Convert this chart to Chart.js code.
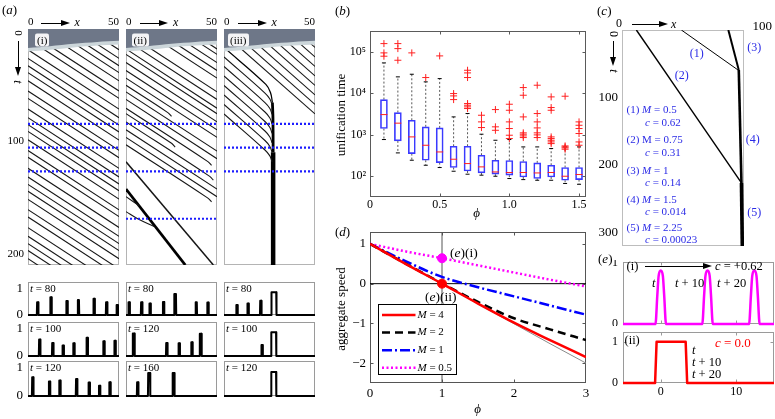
<!DOCTYPE html>
<html>
<head>
<meta charset="utf-8">
<title>Aggregate dynamics</title>
<script src="https://cdn.jsdelivr.net/npm/chart.js@4.4.1/dist/chart.umd.min.js"></script>
<style>
  html, body { margin: 0; padding: 0; background: #fff; }
  body { position: relative; width: 775px; height: 419px; overflow: hidden;
         font-family: "Liberation Serif", "Times New Roman", serif; color: #000; }
  canvas { position: absolute; }
  .tx { position: absolute; white-space: nowrap; line-height: 1; }
  .tag { background: rgba(255,255,255,0.92); padding: 1px 2px; border-radius: 2px; }
  .hl { position: absolute; height: 1px; background: #000; }
  .vl { position: absolute; width: 1px; background: #000; }
  .hh { position: absolute; width: 0; height: 0; border-top: 3.5px solid transparent;
        border-bottom: 3.5px solid transparent; border-left: 9px solid #000; }
  .vh { position: absolute; width: 0; height: 0; border-left: 3.5px solid transparent;
        border-right: 3.5px solid transparent; border-top: 9px solid #000; }
</style>
</head>
<body>
<script>
// ---------- (a) kymographs: times at which an aggregate crosses x = 0 ----------
const K_CROSS = 50;   // (i),(ii): time to cross the 50-wide domain
const K1_ENTRY = [-47.7, -41.5, -32.5, -25.2, -19, -13.2, -6.3, 2.3, 8.5, 17.5, 24.8, 31, 36.8, 43.7,
                  52.3, 58.5, 67.5, 74.8, 80.7, 86.4, 93.4, 102.5, 108.2, 117.4, 124.8, 131, 136.8,
                  143.7, 152.3, 158.5, 167.5, 174.8, 181, 186.8, 193.7];
const K2_FULL = [-47, -40.6, -33.2, -28.6, -21.7, -15, -8.6, 3, 9.4, 16.8, 21.4, 28.3, 35, 41.4, 53, 59.4, 85, 91.4];
const K2_SHORT = [47.5, 66.8, 71.4, 78.3, 97.6];
const K2_SHORT_END = [25, 47, 27, 48, 47];
const K2_HOOKS = [[[0, 141.4], [7.3, 149]], [[0, 154], [6.4, 160], [15.5, 166.5]]];
const K2_SLOW = [[0, 112], [48, 199]];
const K2_THICK = [[0, 135], [32.6, 199]];
const K3_SPEED = 0.74;
const K3_FULL = [-52, -44, -36, -28, -20, -12, -4, 4];
const K3_MERGE = [23.6, 31.6, 39.6, 47.6, 55.6, 63.6, 71.6];
const K3_AGG_A = [[0, 15.6], [23, 46.7], [25.6, 54], [26.6, 62]];
const K3_AGG_B = [[26.6, 62], [26.9, 75], [27, 104]];
const K3_AGG_C = [[27, 104], [27, 199]];
const BAND_DARK = [[0, 16], [12, 14.5], [25, 12.5], [38, 11], [50, 10]];
const BAND_LIGHT = [[0, 19], [12, 17.5], [25, 15.5], [38, 14], [50, 13]];

// snapshots below the kymographs (pulse centres, heights, half widths)
const SN1_T = [80, 100, 120];
const SN1_X = [[5.3, 12.6, 21.4, 27.7, 36.3, 43.2, 49], [6.4, 13.6, 19.3, 25.2, 32.5, 41.7, 47.8], [2.6, 11.8, 17.5, 26.7, 33.6, 39.3, 45]];
const SN1_H = [[0.48, 0.67, 0.53, 0.57, 0.62, 0.48, 0.38], [0.61, 0.48, 0.39, 0.47, 0.67, 0.54, 0.56], [0.67, 0.52, 0.55, 0.61, 0.48, 0.37, 0.49]];
const SN1_W = [[0.3, 0.3, 0.3, 0.3, 0.3, 0.3, 0.3], [0.3, 0.3, 0.3, 0.3, 0.3, 0.3, 0.3], [0.3, 0.3, 0.3, 0.3, 0.3, 0.3, 0.3]];
const SN2_T = [80, 120, 160];
const SN2_X = [[1.7, 8.6, 13.2, 20.6, 27, 38.6, 45], [4.2, 22.4, 29.2, 36.2, 41], [6.4, 12.7, 26.1]];
const SN2_H = [[0.48, 0.48, 0.44, 0.49, 0.8, 0.48, 0.47], [0.83, 0.48, 0.47, 0.51, 0.82], [0.49, 0.82, 0.82]];
const SN2_W = [[0.3, 0.3, 0.3, 0.3, 0.45, 0.3, 0.3], [0.45, 0.3, 0.3, 0.3, 0.45], [0.3, 0.5, 0.45]];
const SN3_T = [80, 100, 120];
const SN3_X = [[7.1, 13.2, 20.2, 27.4], [20.9, 27.3], [27.3]];
const SN3_H = [[0.38, 0.44, 0.54, 0.86], [0.4, 0.87], [0.86]];
const SN3_W = [[0.3, 0.3, 0.3, 1.3], [0.3, 1.3], [1.3]];

// ---------- (b) unification time box plots ----------
const PHI_B = [0.1, 0.2, 0.3, 0.4, 0.5, 0.6, 0.7, 0.8, 0.9, 1.0, 1.1, 1.2, 1.3, 1.4, 1.5];
const B_LO  = [766, 365, 243, 184, 162, 132, 112, 106, 100, 88, 83, 80, 80, 67, 64];
const B_Q1  = [1410, 710, 351, 243, 213, 162, 134, 120, 112, 106, 96, 88, 96, 80, 83];
const B_MED = [3060, 1900, 887, 558, 385, 257, 202, 168, 127, 123, 123, 120, 123, 100, 110];
const B_Q3  = [7030, 3420, 2230, 1550, 1460, 528, 528, 321, 243, 239, 226, 210, 184, 162, 162];
const B_HI  = [53800, 24800, 28700, 18800, 22500, 2690, 3240, 1030, 736, 766, 509, 509, 464, 509, 509];
const B_OUT = [
  [157000, 93800, 78000], [157000, 119000, 62400], [93800], [23900], [79400],
  [9820, 8630, 7030], [35800, 30900, 23900, 5640, 5140, 4690, 4280], [2950, 2040, 1490],
  [4040, 1550, 1280], [5430, 3890, 2040, 1410, 973, 809], [13700, 8950, 2690, 1110, 1030, 937, 855],
  [15600, 3240, 2040, 1460, 1110, 991, 855], [8170, 4520, 3890, 887, 809, 736, 671, 612],
  [8470, 538, 509, 482, 448], [2040, 1690, 1410, 1070, 671, 558]
];
const B_TICK_LABEL = { 100: '10²', 1000: '10³', 10000: '10⁴', 100000: '10⁵' };

// ---------- (c) trajectories ----------
const C_1 = [[42.1, 0], [82.3, 59.3]];
const C_2 = [[10.2, 0], [84.7, 226.6]];
const C_3 = [[75.4, 0], [82.8, 59.3]];
const C_4 = [[82.8, 59.3], [84.7, 226.6]];
const C_5 = [[84.7, 226.6], [85.3, 320]];

// ---------- (d) aggregate speed ----------
const PHI_D = [0, 0.5, 1, 1.5, 2, 2.5, 3];
const D_M4  = [1, 0.49, 0, -0.5, -0.98, -1.42, -1.85];
const D_MINF = [1, 0.49, 0, -0.51, -1.01, -1.51, -2.0];
const D_M2  = [1, 0.5, 0.01, -0.46, -0.87, -1.15, -1.42];
const D_M1  = [1, 0.56, 0.17, -0.09, -0.32, -0.55, -0.78];
const D_M05 = [1, 0.81, 0.64, 0.46, 0.28, 0.1, -0.07];
const D_LEG = ['4', '2', '1', '0.5'];

// ---------- (e) profiles ----------
const E1_POS = [0, 6.2, 12.4];
const E1_H = 0.88;
const PULSE_DX = [-0.7, -0.45, -0.28, 0, 0.28, 0.45, 0.7];
const PULSE_DY = [0, 0.55, 0.9, 1, 0.9, 0.55, 0];
const E2_X = [-5, -0.75, -0.55, 3.3, 3.5, 15];
const E2_Y = [0, 0, 1, 1, 0, 0];

// ================= helpers =================
const FONT = '"Liberation Serif", "Times New Roman", serif';
Chart.defaults.font.family = FONT;
Chart.defaults.font.size = 11;
Chart.defaults.color = '#000';

const zip = (xs, ys) => xs.map((x, i) => [x, ys[i]]);

function line(list, width, color, more) {
  return Object.assign({
    data: list.map(p => ({ x: p[0], y: p[1] })), showLine: true,
    borderColor: color || '#161616', borderWidth: width ?? 1.1,
    pointRadius: 0, fill: false, tension: 0, order: 5
  }, more || {});
}

const framePlugin = {
  id: 'frame',
  beforeDatasetsDraw(chart, args, o) {
    if (!o || !o.color) return;
    const a = chart.chartArea, ctx = chart.ctx;
    const L = Math.round(a.left) + 0.5, T = Math.round(a.top) + 0.5;
    const R = Math.round(a.right) - 0.5, B = Math.round(a.bottom) - 0.5;
    ctx.save();
    ctx.strokeStyle = o.color; ctx.lineWidth = 1;
    ctx.strokeRect(L, T, R - L, B - T);
    if (o.tick) {
      ctx.beginPath();
      ['x', 'y'].forEach(id => {
        const s = chart.scales[id];
        if (!s) return;
        s.ticks.forEach(t => {
          const p = Math.round(s.getPixelForValue(t.value)) + 0.5;
          if (s.isHorizontal()) {
            if (p < L + 2 || p > R - 2) return;
            ctx.moveTo(p, B); ctx.lineTo(p, B - o.tick); ctx.moveTo(p, T); ctx.lineTo(p, T + o.tick);
          } else {
            if (p < T + 2 || p > B - 2) return;
            ctx.moveTo(L, p); ctx.lineTo(L + o.tick, p); ctx.moveTo(R, p); ctx.lineTo(R - o.tick, p);
          }
        });
      });
      ctx.stroke();
    }
    ctx.restore();
  }
};
Chart.register(framePlugin);

function sc(o) {
  const s = {
    type: o.type || 'linear', min: o.min, max: o.max, reverse: !!o.reverse, offset: false,
    display: !!o.pos, position: o.pos || 'bottom',
    grid: { display: false, drawTicks: false, tickLength: 0, offset: false },
    border: { display: false },
    ticks: { padding: o.pad ?? 3, autoSkip: false, maxRotation: 0, minRotation: 0,
             font: { size: o.size || 11 }, color: '#000' },
    afterBuildTicks: ax => { ax.ticks = (o.at || []).map(v => ({ value: v })); }
  };
  if (o.axis) s.axis = o.axis;
  if (o.align) s.ticks.align = o.align;
  if (o.fmt) s.ticks.callback = o.fmt;
  return s;
}

function chartAt(box, m, datasets, scales, frame, plugins) {
  const c = document.createElement('canvas');
  const W = box.w + m.l + m.r, H = box.h + m.t + m.b;
  c.width = W; c.height = H;
  c.style.left = (box.l - m.l) + 'px'; c.style.top = (box.t - m.t) + 'px';
  c.style.width = W + 'px'; c.style.height = H + 'px';
  document.body.appendChild(c);
  const side = { left: m.l, right: m.r, top: m.t, bottom: m.b };
  const pad = Object.assign({}, side);
  Object.values(scales).forEach(s => {
    if (!s.display) return;
    const size = side[s.position];
    pad[s.position] = 0;
    s.afterFit = ax => {
      if (ax.isHorizontal()) ax.height = size; else ax.width = size;
      ax.paddingLeft = ax.paddingRight = ax.paddingTop = ax.paddingBottom = 0;
    };
  });
  return new Chart(c, {
    type: 'scatter',
    data: { datasets },
    options: {
      responsive: false, animation: false, devicePixelRatio: 1, events: [],
      layout: { padding: pad, autoPadding: false },
      plugins: { legend: { display: false }, tooltip: { enabled: false }, frame },
      scales
    },
    plugins: plugins || []
  });
}

function txt(x, y, html, o) {
  o = o || {};
  const d = document.createElement('div');
  d.className = 'tx' + (o.tag ? ' tag' : '');
  d.innerHTML = html;
  d.style.left = x + 'px'; d.style.top = y + 'px';
  d.style.fontSize = (o.size || 11) + 'px';
  if (o.color) d.style.color = o.color;
  const tx = o.align === 'center' ? '-50%' : o.align === 'right' ? '-100%' : '0';
  d.style.transform = 'translate(' + tx + ',-50%)' + (o.rot ? ' rotate(' + o.rot + 'deg)' : '');
  document.body.appendChild(d);
}
function harrow(x1, x2, y) {
  const l = document.createElement('div'); l.className = 'hl';
  l.style.left = x1 + 'px'; l.style.top = (y - 0.5) + 'px'; l.style.width = (x2 - x1 - 6) + 'px';
  const h = document.createElement('div'); h.className = 'hh';
  h.style.left = (x2 - 9) + 'px'; h.style.top = (y - 3.5) + 'px';
  document.body.append(l, h);
}
function varrow(x, y1, y2) {
  const l = document.createElement('div'); l.className = 'vl';
  l.style.left = (x - 0.5) + 'px'; l.style.top = y1 + 'px'; l.style.height = (y2 - y1 - 6) + 'px';
  const h = document.createElement('div'); h.className = 'vh';
  h.style.left = (x - 3.5) + 'px'; h.style.top = (y2 - 9) + 'px';
  document.body.append(l, h);
}

// ================= (a) kymographs =================
const KBOX = [{ l: 28, t: 29, w: 91, h: 236 }, { l: 126, t: 29, w: 91, h: 236 }, { l: 224, t: 29, w: 91, h: 236 }];

function kymoCommon(dots) {
  const sets = dots.map(t => line([[0, t], [50, t]], 2.2, '#1c1cff', { borderDash: [2, 2], order: 0 }));
  sets.push(line(BAND_DARK, 0, '#6e7788', { fill: { value: 0 }, backgroundColor: '#6e7788', order: 1, tension: 0.3 }));
  sets.push(line(BAND_LIGHT, 0, '#ccd6da', { fill: { value: 0 }, backgroundColor: '#ccd6da', order: 1.5, tension: 0.3 }));
  return sets;
}
function kymo(i, sets) {
  const scales = {
    x: sc({ min: 0, max: 50, pos: 'top', at: [0, 50], align: 'inner', pad: 0 }),
    y: sc({ min: 0, max: 199, reverse: true })
  };
  if (i === 0) scales.yl = sc({ axis: 'y', min: 0, max: 210, reverse: true, pos: 'left', at: [100, 200], pad: 4 });
  chartAt(KBOX[i], { l: i === 0 ? 28 : 2, t: 15, r: 2, b: 2 }, sets, scales, { color: '#b4b4b4' });
}

// (i)
const k1 = kymoCommon(SN1_T);
K1_ENTRY.forEach(e => k1.push(line([[0, e], [50, e + K_CROSS]], 1.1)));
kymo(0, k1);

// (ii)
const k2 = kymoCommon(SN2_T);
K2_FULL.forEach(e => k2.push(line([[0, e], [50, e + K_CROSS]], 1.1)));
K2_SHORT.forEach((e, i) => {
  const xe = K2_SHORT_END[i];
  k2.push(line([[0, e], [xe - 2, e + xe - 2], [xe, e + xe + 1.2]], 1.1, null, { tension: 0.4 }));
});
K2_HOOKS.forEach(h => k2.push(line(h, 1.1, null, { tension: 0.4 })));
k2.push(line(K2_SLOW, 1.5));
k2.push(line(K2_THICK, 2.8, '#000'));
kymo(1, k2);

// (iii)
const k3 = kymoCommon(SN3_T);
K3_FULL.forEach(e => k3.push(line([[0, e], [50, e + 50 / K3_SPEED]], 1.1)));
K3_MERGE.forEach(e => {
  const tm = e + 22.5 / K3_SPEED;
  k3.push(line([[0, e], [22.5, tm], [25.2, tm + 5], [26.4, tm + 10]], 1.1, null, { tension: 0.4 }));
});
k3.push(line(K3_AGG_A, 1.3, '#000', { tension: 0.4 }));
k3.push(line(K3_AGG_B, 2.8, '#000', { tension: 0.3 }));
k3.push(line(K3_AGG_C, 4.5, '#000'));
kymo(2, k3);

// snapshots
const SN_ROWS = [{ t: 282, h: 33 }, { t: 322, h: 34 }, { t: 361, h: 35 }];
const SN_SETS = [[SN1_T, SN1_X, SN1_H, SN1_W], [SN2_T, SN2_X, SN2_H, SN2_W], [SN3_T, SN3_X, SN3_H, SN3_W]];
SN_SETS.forEach((set, col) => {
  const [T, X, Hh, Ww] = set;
  T.forEach((tt, r) => {
    const list = [[0, 0]];
    X[r].forEach((c, k) => {
      const w = Ww[r][k], h = Hh[r][k];
      list.push([c - w - 0.15, 0], [c - w, h], [c + w, h], [c + w + 0.15, 0]);
    });
    list.push([50, 0]);
    const box = { l: KBOX[col].l, t: SN_ROWS[r].t, w: 91, h: SN_ROWS[r].h };
    chartAt(box, { l: col === 0 ? 26 : 2, t: 2, r: 2, b: 3 },
      [line(list, 2, '#000', { clip: 3, borderJoinStyle: 'round' })],
      {
        x: sc({ min: 0, max: 50 }),
        y: col === 0 ? sc({ min: 0, max: 1.25, pos: 'left', at: [0, 1], pad: 5, size: 13 }) : sc({ min: 0, max: 1.25 })
      },
      { color: '#9a9a9a' });
  });
});

// ================= (b) box plots =================
const bBoxes = {
  type: 'bar', data: PHI_B.map((p, i) => ({ x: p, y: [B_Q1[i], B_Q3[i]] })),
  backgroundColor: 'rgba(0,0,0,0)', borderColor: '#3a3aff', borderWidth: 1,
  borderSkipped: false, barThickness: 7, order: 4
};
const bWhisk = {
  data: PHI_B.flatMap((p, i) => [{ x: p, y: B_Q3[i] }, { x: p, y: B_HI[i] }, { x: p, y: null },
                                  { x: p, y: B_Q1[i] }, { x: p, y: B_LO[i] }, { x: p, y: null }]),
  showLine: true, spanGaps: false, borderColor: '#444', borderWidth: 0.9, borderDash: [2, 2],
  pointRadius: 0, order: 5
};
const bCaps = {
  data: PHI_B.flatMap((p, i) => [{ x: p, y: B_LO[i] }, { x: p, y: B_HI[i] }]),
  pointStyle: 'line', pointRadius: 2, borderColor: '#000', borderWidth: 1, order: 3
};
const bMed = {
  data: PHI_B.map((p, i) => ({ x: p, y: B_MED[i] })),
  pointStyle: 'line', pointRadius: 3.5, borderColor: '#ff2020', borderWidth: 1, order: 2
};
const bOut = {
  data: B_OUT.flatMap((arr, i) => arr.map(v => ({ x: PHI_B[i], y: v }))),
  pointStyle: 'cross', pointRadius: 3.5, borderColor: '#ff2020', borderWidth: 1, order: 1
};
chartAt({ l: 370, t: 31, w: 216, h: 166 }, { l: 36, t: 2, r: 4, b: 18 },
  [bBoxes, bWhisk, bCaps, bMed, bOut],
  {
    x: sc({ min: 0, max: 1.55, pos: 'bottom', at: [0, 0.5, 1, 1.5], pad: 1, size: 12,
            fmt: v => (v === 0 ? '0' : v.toFixed(1)) }),
    y: sc({ type: 'logarithmic', min: 31.6, max: 316000, pos: 'left', at: [100, 1000, 10000, 100000],
            pad: 4, size: 12, fmt: v => B_TICK_LABEL[v] })
  },
  { color: '#5a5a5a', tick: 3 });

// ================= (c) trajectories =================
chartAt({ l: 622, t: 30, w: 122, h: 216 }, { l: 30, t: 15, r: 4, b: 2 },
  [line(C_1, 1, '#000'), line(C_2, 1.4, '#000'), line(C_3, 2, '#000'), line(C_4, 2.6, '#000'), line(C_5, 3.6, '#000')],
  {
    x: sc({ min: 0, max: 86.5, pos: 'top', at: [0], align: 'inner', pad: -1, size: 12 }),
    y: sc({ min: 0, max: 320, reverse: true, pos: 'left', at: [100, 200, 300], pad: 4, size: 13 })
  },
  { color: '#bdbdbd' });

// ================= (d) aggregate speed =================
const dRed = line(zip(PHI_D, D_M4), 2.5, '#ff0000', { cubicInterpolationMode: 'monotone', order: 3 });
const dBlack = line(zip(PHI_D, D_M2), 2.5, '#000000', { cubicInterpolationMode: 'monotone', borderDash: [8, 5], order: 3 });
const dBlue = line(zip(PHI_D, D_M1), 2.5, '#0000ff', { cubicInterpolationMode: 'monotone', borderDash: [10, 3, 2, 3], order: 3 });
const dMag = line(zip(PHI_D, D_M05), 2.5, '#ff00ff', { cubicInterpolationMode: 'monotone', borderDash: [2, 2.5], order: 3 });
const dGray = line(zip(PHI_D, D_MINF), 1, '#8a8a8a', { cubicInterpolationMode: 'monotone', order: 4 });
const dZero = line([[0, 0], [3, 0]], 1, '#000', { order: 6 });
const dVert = line([[1, -2.5], [1, 1.3]], 1, '#555', { order: 6 });
const dPtMag = { data: [{ x: 1, y: 0.64 }], pointStyle: 'circle', pointRadius: 4.5, backgroundColor: '#ff00ff', borderColor: '#ff00ff', order: 1 };
const dPtRed = { data: [{ x: 1, y: 0 }], pointStyle: 'circle', pointRadius: 4.5, backgroundColor: '#ff0000', borderColor: '#ff0000', order: 1 };
const dLegendSets = [dRed, dBlack, dBlue, dMag];
const dLegend = {
  id: 'dLegend',
  afterDatasetsDraw(chart) {
    const ctx = chart.ctx, a = chart.chartArea;
    const x0 = Math.round(a.left + 8) + 0.5, y0 = Math.round(a.top + 72) + 0.5, w = 78, h = 70;
    ctx.save();
    ctx.fillStyle = '#fff'; ctx.fillRect(x0, y0, w, h);
    ctx.strokeStyle = '#000'; ctx.lineWidth = 1; ctx.strokeRect(x0, y0, w, h);
    dLegendSets.forEach((ds, i) => {
      const y = y0 + 10.5 + 17.6 * i;
      ctx.strokeStyle = ds.borderColor; ctx.lineWidth = ds.borderWidth;
      ctx.setLineDash(ds.borderDash || []);
      ctx.beginPath(); ctx.moveTo(x0 + 3.5, y); ctx.lineTo(x0 + 37, y); ctx.stroke();
      ctx.setLineDash([]);
      ctx.fillStyle = '#000'; ctx.textBaseline = 'middle'; ctx.textAlign = 'left';
      ctx.font = 'italic 11px ' + FONT; ctx.fillText('M', x0 + 39, y);
      const mw = ctx.measureText('M').width;
      ctx.font = '11px ' + FONT; ctx.fillText(' = ' + D_LEG[i], x0 + 39 + mw, y);
    });
    ctx.restore();
  }
};
chartAt({ l: 370, t: 232, w: 216, h: 151 }, { l: 30, t: 2, r: 8, b: 20 },
  [dPtMag, dPtRed, dRed, dBlack, dBlue, dMag, dGray, dZero, dVert],
  {
    x: sc({ min: 0, max: 3, pos: 'bottom', at: [0, 1, 2, 3], pad: 3, size: 13 }),
    y: sc({ min: -2.5, max: 1.3, pos: 'left', at: [-2, -1, 0, 1], pad: 4, size: 13,
            fmt: v => String(v).replace('-', '\u2212') })
  },
  { color: '#555', tick: 3 }, [dLegend]);

// ================= (e) profiles =================
const e1 = [[-5, 0]];
E1_POS.forEach(c => PULSE_DX.forEach((dx, k) => e1.push([c + dx, E1_H * PULSE_DY[k]])));
e1.push([15, 0]);
chartAt({ l: 623, t: 262, w: 151, h: 62 }, { l: 20, t: 2, r: 1, b: 2 },
  [line(e1, 2.5, '#ff00ff', { cubicInterpolationMode: 'monotone', clip: 3 })],
  {
    x: sc({ min: -5, max: 15, at: [0, 10] }),
    y: sc({ min: 0, max: 1.02, pos: 'left', at: [0, 1], pad: 5, size: 12 })
  },
  { color: '#9a9a9a', tick: 3 });
chartAt({ l: 623, t: 332, w: 151, h: 51 }, { l: 20, t: 2, r: 1, b: 18 },
  [line(zip(E2_X, E2_Y), 2.5, '#ff0000', { clip: 3, borderJoinStyle: 'round' })],
  {
    x: sc({ min: -5, max: 15, pos: 'bottom', at: [0, 10], pad: 2, size: 12 }),
    y: sc({ min: 0, max: 1.24, pos: 'left', at: [0, 1], pad: 5, size: 12 })
  },
  { color: '#9a9a9a', tick: 3 });

// ================= text annotations =================
// (a)
txt(2, 8.5, '(<i>a</i>)', { size: 13 });
[35, 131.5, 228].forEach((x, i) => txt(x, 40, ['(i)', '(ii)', '(iii)'][i], { tag: true }));
[[41, 70, 74.5], [139.5, 168, 173], [237.5, 266.5, 271.5]].forEach(a => {
  harrow(a[0], a[1], 23);
  txt(a[2], 22, '<i>x</i>', { size: 12 });
});
txt(18.3, 33, '0', { align: 'center', rot: 90 });
varrow(18.3, 41, 76);
txt(18.3, 81.5, '<i>t</i>', { align: 'center', rot: 90, size: 12 });
SN_SETS.forEach((set, col) => set[0].forEach((tt, r) =>
  txt(KBOX[col].l + 2, SN_ROWS[r].t + 5.5, '<i>t</i> = ' + tt)));

// (b)
txt(335, 10, '(<i>b</i>)', { size: 13 });
txt(340, 115, 'unification time', { align: 'center', rot: -90, size: 13 });
txt(476.7, 212, '<i>ϕ</i>', { align: 'center', size: 13 });

// (c)
txt(597, 10, '(<i>c</i>)', { size: 13 });
harrow(632, 668, 24);
txt(671, 23.5, '<i>x</i>', { size: 12 });
txt(772, 24.5, '100', { align: 'right', size: 13 });
txt(613.5, 33.5, '0', { align: 'center', rot: 90, size: 12 });
varrow(613.5, 41, 66);
txt(613.5, 71, '<i>t</i>', { align: 'center', rot: 90, size: 12 });
const BLUE = '#2a2ae6';
txt(696.7, 53.3, '(1)', { align: 'center', color: BLUE, size: 12 });
txt(681.7, 75, '(2)', { align: 'center', color: BLUE, size: 12 });
txt(754.3, 46.7, '(3)', { align: 'center', color: BLUE, size: 12 });
txt(752.7, 139.3, '(4)', { align: 'center', color: BLUE, size: 12 });
txt(754.3, 212.3, '(5)', { align: 'center', color: BLUE, size: 12 });
[['(1) <i>M</i> = 0.5', '<i>c</i> = 0.62', 109.3], ['(2) M = 0.75', '<i>c</i> = 0.31', 139.3],
 ['(3) <i>M</i> = 1', '<i>c</i> = 0.14', 170], ['(4) <i>M</i> = 1.5', '<i>c</i> = 0.014', 199],
 ['(5) <i>M</i> = 2.25', '<i>c</i> = 0.00023', 226.7]].forEach(r => {
  txt(626.5, r[2], r[0], { color: BLUE, size: 11 });
  txt(645, r[2] + 12.2, r[1], { color: BLUE, size: 11 });
});

// (d)
txt(335, 231, '(<i>d</i>)', { size: 13 });
txt(340, 309, 'aggregate speed', { align: 'center', rot: -90, size: 13 });
txt(477.7, 408, '<i>ϕ</i>', { align: 'center', size: 13 });
txt(450, 253, '(<i>e</i>)(i)', { size: 13.5 });
txt(425, 297, '(<i>e</i>)(ii)', { size: 13.5 });

// (e)
txt(598, 258, '(<i>e</i>)', { size: 13 });
txt(626.5, 265.5, '(i)', { size: 12.5 });
harrow(645, 712, 266);
txt(715, 265.5, '<i>c</i> = +0.62', { size: 12.5 });
txt(652, 283.3, '<i>t</i>', { size: 12.5 });
txt(675, 283.3, '<i>t</i> + 10', { size: 12.5 });
txt(717, 283.3, '<i>t</i> + 20', { size: 12.5 });
txt(624.5, 340, '(ii)', { size: 12.5 });
txt(715, 342, '<i>c</i> = 0.0', { size: 13, color: '#ff0000' });
txt(692, 350, '<i>t</i>', { size: 12.5 });
txt(692, 362, '<i>t</i> + 10', { size: 12.5 });
txt(692, 374, '<i>t</i> + 20', { size: 12.5 });
</script>
</body>
</html>
